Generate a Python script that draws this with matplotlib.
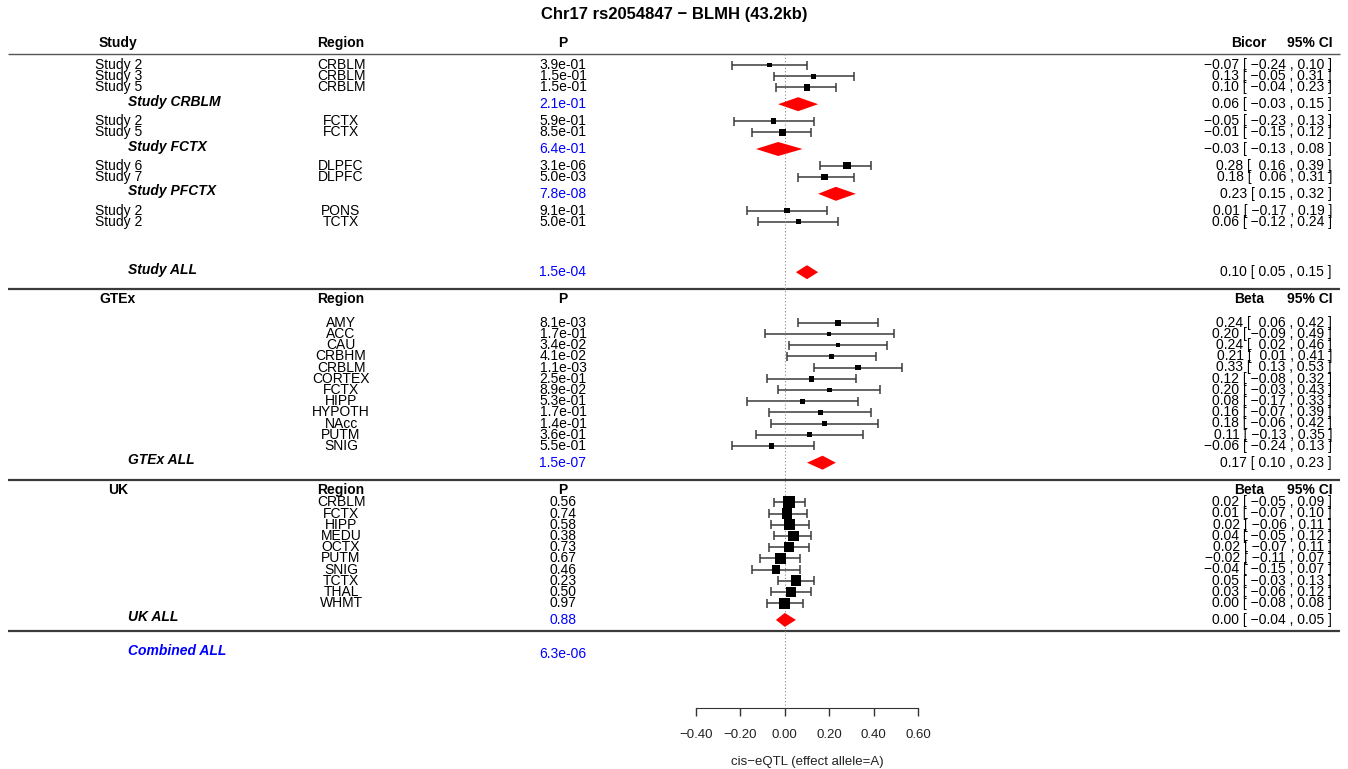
import matplotlib
matplotlib.use('Agg')
import matplotlib.pyplot as plt
from matplotlib.transforms import blended_transform_factory
from matplotlib.ticker import FuncFormatter

plt.rcParams['font.family'] = ['Liberation Sans', 'DejaVu Sans']

W, H = 1348, 769

# ---- Study data ----
study_names = ['Study 2', 'Study 3', 'Study 5', 'Study 2', 'Study 5',
               'Study 6', 'Study 7', 'Study 2', 'Study 2']
study_regions = ['CRBLM', 'CRBLM', 'CRBLM', 'FCTX', 'FCTX',
                 'DLPFC', 'DLPFC', 'PONS', 'TCTX']
study_p = ['3.9e-01', '1.5e-01', '1.5e-01', '5.9e-01', '8.5e-01',
           '3.1e-06', '5.0e-03', '9.1e-01', '5.0e-01']
study_est = [-0.07, 0.13, 0.10, -0.05, -0.01, 0.28, 0.18, 0.01, 0.06]
study_lo = [-0.24, -0.05, -0.04, -0.23, -0.15, 0.16, 0.06, -0.17, -0.12]
study_hi = [0.10, 0.31, 0.23, 0.13, 0.12, 0.39, 0.31, 0.19, 0.24]
study_w = [4.0, 4.0, 5.3, 4.3, 5.7, 6.0, 5.7, 4.3, 4.0]

study_sum_names = ['Study CRBLM', 'Study FCTX', 'Study PFCTX', 'Study ALL']
study_sum_p = ['2.1e-01', '6.4e-01', '7.8e-08', '1.5e-04']
study_sum_est = [0.06, -0.03, 0.23, 0.10]
study_sum_lo = [-0.03, -0.13, 0.15, 0.05]
study_sum_hi = [0.15, 0.08, 0.32, 0.15]

# ---- GTEx data ----
gtex_regions = ['AMY', 'ACC', 'CAU', 'CRBHM', 'CRBLM', 'CORTEX', 'FCTX',
                'HIPP', 'HYPOTH', 'NAcc', 'PUTM', 'SNIG']
gtex_p = ['8.1e-03', '1.7e-01', '3.4e-02', '4.1e-02', '1.1e-03', '2.5e-01',
          '8.9e-02', '5.3e-01', '1.7e-01', '1.4e-01', '3.6e-01', '5.5e-01']
gtex_est = [0.24, 0.20, 0.24, 0.21, 0.33, 0.12, 0.20, 0.08, 0.16, 0.18, 0.11, -0.06]
gtex_lo = [0.06, -0.09, 0.02, 0.01, 0.13, -0.08, -0.03, -0.17, -0.07, -0.06, -0.13, -0.24]
gtex_hi = [0.42, 0.49, 0.46, 0.41, 0.53, 0.32, 0.43, 0.33, 0.39, 0.42, 0.35, 0.13]
gtex_w = [4.7, 3.3, 4.0, 4.3, 4.7, 4.7, 4.0, 4.3, 4.3, 4.3, 4.3, 4.7]
gtex_sum = ('GTEx ALL', '1.5e-07', 0.17, 0.10, 0.23)

# ---- UK data ----
uk_regions = ['CRBLM', 'FCTX', 'HIPP', 'MEDU', 'OCTX', 'PUTM', 'SNIG',
              'TCTX', 'THAL', 'WHMT']
uk_p = ['0.56', '0.74', '0.58', '0.38', '0.73', '0.67', '0.46', '0.23', '0.50', '0.97']
uk_est = [0.02, 0.01, 0.02, 0.04, 0.02, -0.02, -0.04, 0.05, 0.03, 0.00]
uk_lo = [-0.05, -0.07, -0.06, -0.05, -0.07, -0.11, -0.15, -0.03, -0.06, -0.08]
uk_hi = [0.09, 0.10, 0.11, 0.12, 0.11, 0.07, 0.07, 0.13, 0.12, 0.08]
uk_w = [9.7, 8.7, 9.0, 9.0, 8.3, 8.7, 7.0, 9.0, 8.3, 9.3]
uk_sum = ('UK ALL', '0.88', 0.00, -0.04, 0.05)

combined_name = 'Combined ALL'
combined_p = '6.3e-06'

xticks = [-0.4, -0.2, 0.0, 0.2, 0.4, 0.6]

# ---- layout (pixel rows, from top) ----
step = 11.2
study_y0 = 65
study_rows = [0, 1, 2, 5, 6, 9, 10, 13, 14]
study_sum_rows = [3.5, 7.5, 11.5, 18.5]
gtex_y0 = 322.7
uk_y0 = 502.3
x_name, x_sum, x_head, x_reg, x_p, x_ci = 95, 128, 118, 341, 563, 1332
fs = 10
box_scale = 1.2


def fmt(v, w=0):
    s = '{:{w}.2f}'.format(v, w=w) if w else '{:.2f}'.format(v)
    return s.replace('-', '\u2212')


def ci_text(e, lo, hi, pad=True):
    return '{} [ {} , {} ]'.format(fmt(e), fmt(lo, 5 if pad else 0), fmt(hi))


fig = plt.figure(figsize=(W / 100, H / 100), dpi=100)
ax = fig.add_axes([696 / W, 0, 222 / W, 1])
ax.set_xlim(-0.4, 0.6)
ax.set_ylim(H, 0)
tr = blended_transform_factory(fig.transFigure, ax.transData)


def put(x, y, s, ha='center', **kw):
    kw.setdefault('fontsize', fs)
    ax.text(x / W, y, s, transform=tr, ha=ha, va='center', **kw)


def hline(y, lw, color):
    ax.plot([8 / W, 1340 / W], [y, y], transform=tr, color=color, lw=lw,
            clip_on=False, solid_capstyle='butt')


def boxes(ys, est, lo, hi, w):
    ax.hlines(ys, lo, hi, color='#3a3a3a', lw=1.1)
    ax.vlines(lo, [y - 4.5 for y in ys], [y + 4.5 for y in ys], color='#3a3a3a', lw=1.1)
    ax.vlines(hi, [y - 4.5 for y in ys], [y + 4.5 for y in ys], color='#3a3a3a', lw=1.1)
    ax.scatter(est, ys, marker='s', s=[(b * box_scale * 0.72) ** 2 for b in w],
               color='black', linewidths=0, zorder=3)


def diamond(y, e, lo, hi):
    ax.fill([lo, e, hi, e], [y, y - 7, y, y + 7], color='red', lw=0, zorder=3)


def summary(y, name, p, e, lo, hi, color='black'):
    put(x_sum, y - 2.5, name, ha='left', fontweight='bold', fontstyle='italic', color=color)
    put(x_p, y, p, color='blue')
    diamond(y, e, lo, hi)
    put(x_ci, y, ci_text(e, lo, hi, pad=False), ha='right')


def headers(y, first, eff):
    put(x_head, y, first, fontweight='bold')
    put(x_reg, y, 'Region', fontweight='bold')
    put(x_p, y, 'P', fontweight='bold')
    put(1249, y, eff, fontweight='bold')
    put(1310, y, '95% CI', fontweight='bold')


# title
fig.text(0.5, 1 - 15 / H, 'Chr17 rs2054847 \u2212 BLMH (43.2kb)', ha='center',
         va='center', fontsize=12, fontweight='bold')

# Study section
headers(study_y0 - 2 * step, 'Study', 'Bicor')
hline(study_y0 - step, 1.0, '#555555')
ys = [study_y0 + r * step for r in study_rows]
for y, n, rg, p, e, lo, hi in zip(ys, study_names, study_regions, study_p,
                                   study_est, study_lo, study_hi):
    put(x_name, y, n, ha='left')
    put(x_reg, y, rg)
    put(x_p, y, p)
    put(x_ci, y, ci_text(e, lo, hi), ha='right')
boxes(ys, study_est, study_lo, study_hi, study_w)
for r, n, p, e, lo, hi in zip(study_sum_rows, study_sum_names, study_sum_p,
                              study_sum_est, study_sum_lo, study_sum_hi):
    summary(study_y0 + r * step, n, p, e, lo, hi)
hline(study_y0 + 20 * step, 1.6, '#3a3a3a')

# GTEx section
headers(gtex_y0 - 2.1 * step, 'GTEx', 'Beta')
ys = [gtex_y0 + i * step for i in range(len(gtex_regions))]
for y, rg, p, e, lo, hi in zip(ys, gtex_regions, gtex_p, gtex_est, gtex_lo, gtex_hi):
    put(x_reg, y, rg)
    put(x_p, y, p)
    put(x_ci, y, ci_text(e, lo, hi), ha='right')
boxes(ys, gtex_est, gtex_lo, gtex_hi, gtex_w)
y_sum = ys[-1] + 1.5 * step
summary(y_sum, *gtex_sum)
hline(y_sum + 1.5 * step, 1.6, '#3a3a3a')

# UK section
headers(uk_y0 - 1.1 * step, 'UK', 'Beta')
ys = [uk_y0 + i * step for i in range(len(uk_regions))]
for y, rg, p, e, lo, hi in zip(ys, uk_regions, uk_p, uk_est, uk_lo, uk_hi):
    put(x_reg, y, rg)
    put(x_p, y, p)
    put(x_ci, y, ci_text(e, lo, hi), ha='right')
boxes(ys, uk_est, uk_lo, uk_hi, uk_w)
y_sum = ys[-1] + 1.5 * step
summary(y_sum, *uk_sum)
y_line = y_sum + step
hline(y_line, 1.6, '#3a3a3a')

# combined
y_comb = y_line + 2 * step
put(x_sum, y_comb - 2.5, combined_name, ha='left', fontweight='bold',
    fontstyle='italic', color='blue')
put(x_p, y_comb, combined_p, color='blue')

# zero line + axis
y_axis = 707.7
ax.vlines(0, study_y0 - step, y_axis, color='#888888', lw=0.8, linestyles=(0, (1, 2)))
for s in ['top', 'left', 'right']:
    ax.spines[s].set_visible(False)
ax.spines['bottom'].set_position(('data', y_axis))
ax.spines['bottom'].set_color('#333333')
ax.set_yticks([])
ax.set_xticks(xticks)
ax.xaxis.set_major_formatter(FuncFormatter(lambda v, pos: fmt(v)))
ax.tick_params(axis='x', direction='out', length=5.8, width=1, color='#333333',
               labelsize=9.5, labelcolor='#222222', pad=9.5)
ax.set_xlabel('cis\u2212eQTL (effect allele=A)', fontsize=9.5, color='#222222', labelpad=11)
ax.patch.set_visible(False)

fig.savefig('out.png', dpi=100)
